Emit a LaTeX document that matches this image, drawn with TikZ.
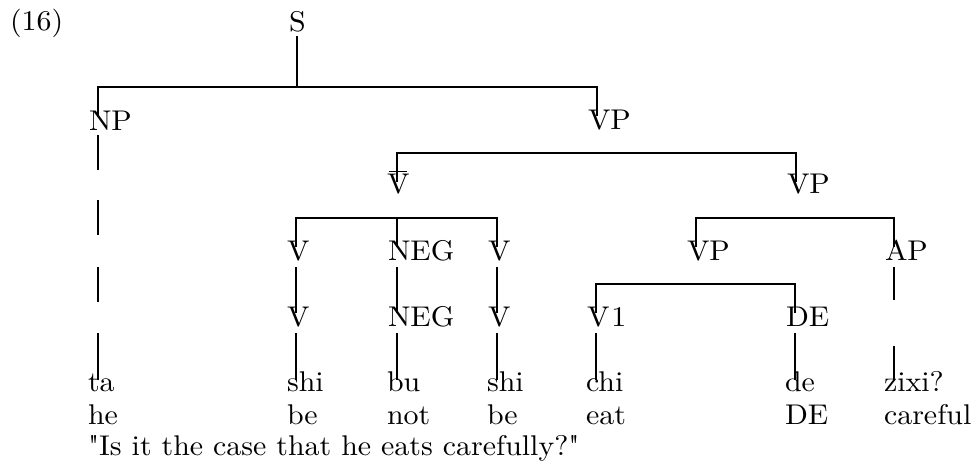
\documentclass[tikz,border=0pt]{standalone}
\usepackage{fontspec}
\newfontfamily\treeface{lmroman10-regular.otf}[FakeStretch=1.05]
\newcommand\treefont{\treeface\fontsize{28.5}{34}\selectfont}
\tikzset{
  lab/.style={inner sep=0pt, outer sep=0pt, anchor=base west, text height=0.69em, text depth=0pt, font=\treefont},
  br/.style={line width=1.7pt, line cap=butt, line join=miter}
}
\begin{document}
\begin{tikzpicture}[x=1pt,y=-1pt]
\useasboundingbox (0,0) rectangle (973,461);
% labels
\node[lab] (ex) at (10,30) {(16)};
\node[lab] (S) at (289,31) {S};
\node[lab] (NP) at (89,130) {NP};
\node[lab] (VPa) at (588,129) {VP};
\node[lab] (Vbar) at (387,193) {\rlap{\hspace{0.06em}\rule[0.72em]{0.63em}{0.065em}}V};
\node[lab] (VPb) at (787,193) {VP};
% row 3
\node[lab] (Va) at (287,260) {V};
\node[lab] (NEGa) at (388,260) {NEG};
\node[lab] (Vb) at (488,260) {V};
\node[lab] (VPc) at (687,260) {VP};
\node[lab] (AP) at (885,260) {AP};
% row 4
\node[lab] (Vc) at (287,326) {V};
\node[lab] (NEGb) at (388,326) {NEG};
\node[lab] (Vd) at (488,326) {V};
\node[lab] (Vone) at (587,326) {V\kern2pt 1};
\node[lab] (DE) at (786,326) {DE};
% words
\node[lab] (w1) at (88,391) {ta};
\node[lab] (w2) at (287,391) {shi};
\node[lab] (w3) at (387,391) {bu};
\node[lab] (w4) at (487,391) {shi};
\node[lab] (w5) at (586,391) {chi};
\node[lab] (w6) at (785,391) {de};
\node[lab] (w7) at (884,391) {zixi?};
% glosses
\node[lab] (g1) at (88,424) {he};
\node[lab] (g2) at (287,424) {be};
\node[lab] (g3) at (387,424) {not};
\node[lab] (g4) at (487,424) {be};
\node[lab] (g5) at (586,424) {eat};
\node[lab] (g6) at (785,424) {DE};
\node[lab] (g7) at (884,424) {careful};
% translation
\node[lab] (tr) at (88,455) {"Is it the case that he eats carefully?"};
% bar coordinates
\path (S.south) ++(0,56) coordinate (bS);
\coordinate (b2) at (500,153);
\coordinate (b3) at (397,218);
\coordinate (b3r) at (800,218);
\coordinate (b4) at (700,284);
% S
\draw[br] ([yshift=-5pt]S.south) -- (bS);
\draw[br] ([xshift=9pt,yshift=6.5pt]NP.north west) |- (bS) -| ([xshift=9pt,yshift=6.5pt]VPa.north west);
% VP -> Vbar VP
\draw[br] ([xshift=10pt,yshift=4pt]Vbar.north west) |- (b2) -| ([xshift=9pt,yshift=4.5pt]VPb.north west);
% Vbar -> V NEG V
\draw[br] ([xshift=9pt,yshift=6pt]Va.north west) |- (b3) -| ([xshift=9pt,yshift=6pt]Vb.north west);
\draw[br] ([xshift=9pt,yshift=6pt]NEGa.north west) -- (b3);
% VP -> VP AP
\draw[br] ([xshift=9pt,yshift=6pt]VPc.north west) |- (b3r) -| ([xshift=9pt,yshift=6pt]AP.north west);
% VP -> V1 DE
\draw[br] ([xshift=9pt,yshift=6.5pt]Vone.north west) |- (b4) -| ([xshift=9pt,yshift=6.5pt]DE.north west);
% unary lines row3 -> row4
\draw[br] ([xshift=9pt,yshift=-7pt]Va.south west) -- ([xshift=9pt,yshift=6.5pt]Vc.north west);
\draw[br] ([xshift=9pt,yshift=-7pt]NEGa.south west) -- ([xshift=9pt,yshift=6.5pt]NEGb.north west);
\draw[br] ([xshift=9pt,yshift=-7pt]Vb.south west) -- ([xshift=9pt,yshift=6.5pt]Vd.north west);
\draw[br] ([xshift=9pt,yshift=-7pt]AP.south west) -- ++(0,33);
% row4 -> words
\draw[br] ([xshift=9pt,yshift=-7pt]Vc.south west) -- ([xshift=9pt,yshift=4pt]w2.north west);
\draw[br] ([xshift=9pt,yshift=-7pt]NEGb.south west) -- ([xshift=10pt,yshift=4pt]w3.north west);
\draw[br] ([xshift=9pt,yshift=-7pt]Vd.south west) -- ([xshift=10pt,yshift=4pt]w4.north west);
\draw[br] ([xshift=9pt,yshift=-7pt]Vone.south west) -- ([xshift=10pt,yshift=4pt]w5.north west);
\draw[br] ([xshift=9pt,yshift=-7pt]DE.south west) -- ([xshift=10pt,yshift=4pt]w6.north west);
\draw[br] ([xshift=10pt,yshift=4pt]w7.north west) -- ++(0,-34);
% NP column, broken line
\draw[br] ([xshift=9pt]NP.south west) ++(0,5) -- ++(0,35) ++(0,30) -- ++(0,35) ++(0,32) -- ++(0,35) ++(0,31) -- ([xshift=10pt,yshift=4pt]w1.north west);
\end{tikzpicture}
\end{document}
